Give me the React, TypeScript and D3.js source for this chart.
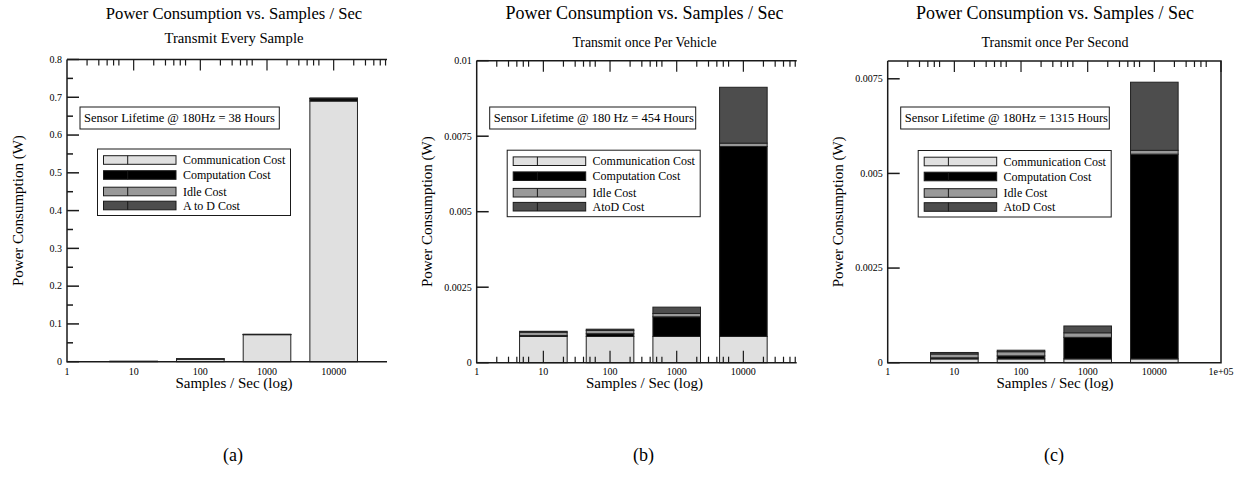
import React from 'react';
import * as d3 from 'd3';

// sample rates (bar centres on the log axis)
const rates = [10, 100, 1000, 10000];
const xTickValues = [1, 10, 100, 1000, 10000, 100000];
const xTickLabels = ['1', '10', '100', '1000', '10000', '1e+05'];
const minorMultipliers = [2, 3, 4, 5, 6];

const legendNamesA = ['Communication Cost', 'Computation Cost', 'Idle Cost', 'A to D Cost'];
const legendNamesBC = ['Communication Cost', 'Computation Cost', 'Idle Cost', 'AtoD Cost'];

// (a) Transmit Every Sample
const commA = [0.0007, 0.0071, 0.0715, 0.69];
const compA = [0.00003, 0.00009, 0.00065, 0.0063];
const idleA = [0.00011, 0.00011, 0.00011, 0.00011];
const atodA = [0.00003, 0.00004, 0.00021, 0.00185];
const yTicksA = [0, 0.1, 0.2, 0.3, 0.4, 0.5, 0.6, 0.7, 0.8];
const yMinorA = [0.05, 0.15, 0.25, 0.35, 0.45, 0.55, 0.65, 0.75];

// (b) Transmit once Per Vehicle
const commB = [0.00087, 0.00087, 0.00087, 0.00087];
const compB = [0.00003, 0.00009, 0.00065, 0.00629];
const idleB = [0.00011, 0.00011, 0.00011, 0.00011];
const atodB = [0.00003, 0.00004, 0.00021, 0.00185];
const yTicksB = [0, 0.0025, 0.005, 0.0075, 0.01];

// (c) Transmit once Per Second
const commC = [0.0001, 0.0001, 0.0001, 0.0001];
const compC = [0.00003, 0.00008, 0.00057, 0.00541];
const idleC = [0.0001, 0.00011, 0.00012, 0.0001];
const atodC = [0.00004, 0.00004, 0.00018, 0.0018];
const yTicksC = [0, 0.0025, 0.005, 0.0075];

const keys = ['comm', 'comp', 'idle', 'atod'];
const fills = ['#e0e0e0', '#000000', '#999999', '#4d4d4d'];
const FONT = '"Liberation Serif", "Times New Roman", serif';
const INK = '#1a1a1a';

const panels = [
  {
    id: 'a', left: 67, right: 387, top: 59.5, bottom: 361.7, cx: 234,
    xMax: Math.pow(10, 4.8), yMax: 0.8, yTicks: yTicksA, yMinor: yMinorA,
    comm: commA, comp: compA, idle: idleA, atod: atodA,
    subtitle: 'Transmit Every Sample', titleSize: 16.6, subSize: 14.7, subY: 43.3,
    note: 'Sensor Lifetime @ 180Hz = 38 Hours', noteW: 199.3,
    legend: legendNamesA, bottomTicks: false, rightBorder: false,
  },
  {
    id: 'b', left: 476.7, right: 796.7, top: 60.7, bottom: 362.7, cx: 644.5,
    xMax: Math.pow(10, 4.8), yMax: 0.01, yTicks: yTicksB, yMinor: [],
    comm: commB, comp: compB, idle: idleB, atod: atodB,
    subtitle: 'Transmit once Per Vehicle', titleSize: 18, subSize: 13.7, subY: 47.3,
    note: 'Sensor Lifetime @ 180 Hz = 454 Hours', noteW: 206,
    legend: legendNamesBC, bottomTicks: true, rightBorder: false,
  },
  {
    id: 'c', left: 887.7, right: 1221, top: 61, bottom: 362.7, cx: 1055,
    xMax: 100000, yMax: 0.00797, yTicks: yTicksC, yMinor: [],
    comm: commC, comp: compC, idle: idleC, atod: atodC,
    subtitle: 'Transmit once Per Second', titleSize: 18, subSize: 14, subY: 47.3,
    note: 'Sensor Lifetime @ 180Hz = 1315 Hours', noteW: 208.6,
    legend: legendNamesBC, bottomTicks: false, rightBorder: true,
  },
];

const legendRows = [11, 26, 42.5, 56.5];
const barHalf = 0.357; // half bar width, in decades

function Panel({ p }) {
  const x = d3.scaleLog().domain([1, p.xMax]).range([p.left, p.right]);
  const y = d3.scaleLinear().domain([0, p.yMax]).range([p.bottom, p.top]);

  const rows = rates.map((r, i) => ({ rate: r, comm: p.comm[i], comp: p.comp[i], idle: p.idle[i], atod: p.atod[i] }));
  const stacked = d3.stack().keys(keys)(rows);

  const minors = [];
  for (let d = 0; d < 5; d++) {
    minorMultipliers.forEach((m) => {
      const v = m * Math.pow(10, d);
      if (v < p.xMax) minors.push(v);
    });
  }
  const majors = xTickValues.filter((v) => v > 1 && v <= p.xMax);

  const legX = p.left + 30.5;
  const legY = p.top + 89.5;

  return (
    <g>
      <text x={p.cx} y={19.3} textAnchor="middle" fontSize={p.titleSize}>Power Consumption vs. Samples / Sec</text>
      <text x={p.cx} y={p.subY} textAnchor="middle" fontSize={p.subSize}>{p.subtitle}</text>

      {/* bars */}
      {stacked.map((layer, li) => (
        <g key={li}>
          {layer.map((seg, i) => (
            <rect
              key={i}
              x={x(seg.data.rate * Math.pow(10, -barHalf))}
              width={x(seg.data.rate * Math.pow(10, barHalf)) - x(seg.data.rate * Math.pow(10, -barHalf))}
              y={y(seg[1])}
              height={Math.max(0, y(seg[0]) - y(seg[1]))}
              fill={fills[li]}
              stroke="#222"
              strokeWidth={1}
            />
          ))}
        </g>
      ))}

      {/* frame */}
      <path
        d={`M${p.left},${p.top}H${p.right}${p.rightBorder ? `V${p.bottom}` : `M${p.right},${p.bottom}`}H${p.left}V${p.top}`}
        fill="none" stroke={INK} strokeWidth={1.5}
      />

      {/* top log ticks */}
      {minors.map((v) => (
        <line key={'tm' + v} x1={x(v)} x2={x(v)} y1={p.top} y2={p.top + 6} stroke={INK} strokeWidth={1.2} />
      ))}
      {majors.map((v) => (
        <line key={'tM' + v} x1={x(v)} x2={x(v)} y1={p.top} y2={p.top + 11} stroke={INK} strokeWidth={1.2} />
      ))}
      {p.bottomTicks && minors.map((v) => (
        <line key={'bm' + v} x1={x(v)} x2={x(v)} y1={p.bottom} y2={p.bottom - 6} stroke={INK} strokeWidth={1.2} />
      ))}
      {p.bottomTicks && majors.map((v) => (
        <line key={'bM' + v} x1={x(v)} x2={x(v)} y1={p.bottom} y2={p.bottom - 12} stroke={INK} strokeWidth={1.2} />
      ))}

      {/* x tick labels */}
      {xTickValues.map((v, i) => (v <= p.xMax ? (
        <text key={'xl' + v} x={x(v)} y={375.3} textAnchor="middle" fontSize={10}>{xTickLabels[i]}</text>
      ) : null))}
      <text x={p.cx} y={388.3} textAnchor="middle" fontSize={15}>Samples / Sec (log)</text>

      {/* y ticks */}
      {p.yTicks.map((v) => (
        <g key={'y' + v}>
          <line x1={p.left} x2={p.left + 12} y1={y(v)} y2={y(v)} stroke={INK} strokeWidth={1.5} />
          <text x={p.left - 5} y={y(v)} dy="0.33em" textAnchor="end" fontSize={10}>{String(v)}</text>
        </g>
      ))}
      {p.yMinor.map((v) => (
        <line key={'ym' + v} x1={p.left} x2={p.left + 6} y1={y(v)} y2={y(v)} stroke={INK} strokeWidth={1.5} />
      ))}
      <text
        transform={`translate(${p.left - 44.5},${(p.top + p.bottom) / 2}) rotate(-90)`}
        textAnchor="middle" fontSize={15}
      >Power Consumption (W)</text>

      {/* lifetime note */}
      <rect x={p.left + 13} y={107} width={p.noteW} height={22} fill="#fff" stroke={INK} strokeWidth={1} />
      <text x={p.left + 17} y={122.3} fontSize={12.5}>{p.note}</text>

      {/* legend */}
      <rect x={legX} y={legY} width={193} height={66.5} fill="#fff" stroke={INK} strokeWidth={1} />
      {p.legend.map((name, i) => (
        <g key={name}>
          <rect x={legX + 6} y={legY + legendRows[i] - 4.3} width={72.5} height={8.6} fill={fills[i]} stroke={INK} strokeWidth={1} />
          <line x1={legX + 30.2} x2={legX + 30.2} y1={legY + legendRows[i] - 4.3} y2={legY + legendRows[i] + 4.3} stroke={INK} strokeWidth={1} />
          <text x={legX + 85.4} y={legY + legendRows[i]} dy="0.35em" fontSize={12}>{name}</text>
        </g>
      ))}

      <text x={p.cx - 1} y={461} textAnchor="middle" fontSize={18}>({p.id})</text>
    </g>
  );
}

export default function App() {
  return (
    <svg
      width={1238}
      height={478}
      style={{ position: 'absolute', left: 0, top: 0, background: '#fff' }}
      fontFamily={FONT}
      fill="#000"
    >
      <rect width={1238} height={478} fill="#fff" />
      {panels.map((p) => <Panel key={p.id} p={p} />)}
    </svg>
  );
}
